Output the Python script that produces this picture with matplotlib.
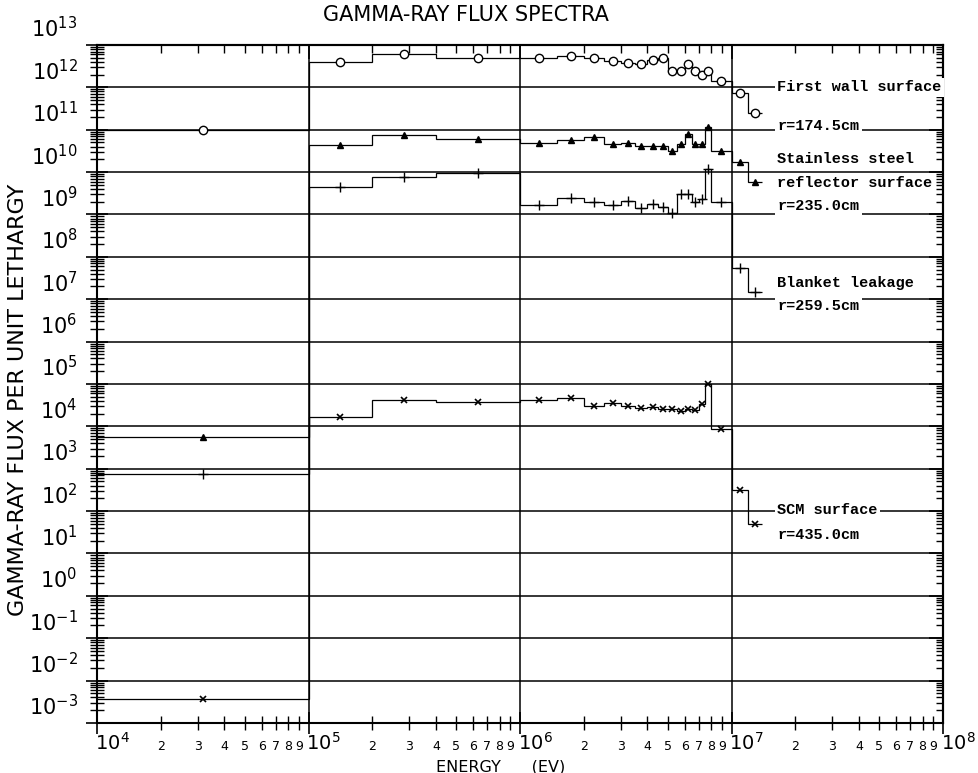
import numpy as np
import matplotlib
matplotlib.use('Agg')
import matplotlib.pyplot as plt
from matplotlib.ticker import LogLocator, FuncFormatter, NullFormatter
from matplotlib.transforms import ScaledTranslation, blended_transform_factory

# energy group boundaries (eV)
edges = [1e4, 1e5, 2e5, 4e5, 1e6, 1.5e6, 2e6, 2.5e6, 3e6, 3.5e6, 4e6, 4.5e6,
         5e6, 5.5e6, 6e6, 6.5e6, 7e6, 7.5e6, 8e6, 1e7, 1.2e7, 1.4e7]

# gamma-ray flux per unit lethargy, one value per group
first_wall = [9.8e10, 3.9e12, 6.2e12, 5.0e12, 5.0e12, 5.4e12, 4.8e12, 4.1e12,
              3.8e12, 3.5e12, 4.5e12, 4.9e12, 2.4e12, 2.4e12, 3.5e12, 2.5e12,
              2.0e12, 2.5e12, 1.4e12, 7.4e11, 2.5e11]
reflector = [5.6e3, 4.3e10, 7.6e10, 5.9e10, 4.9e10, 5.6e10, 6.8e10, 4.6e10,
             4.9e10, 4.2e10, 4.2e10, 4.2e10, 3.2e10, 4.7e10, 7.8e10, 4.7e10,
             4.7e10, 1.15e11, 3.2e10, 1.7e10, 5.8e9]
blanket = [7.4e2, 4.5e9, 7.6e9, 9.3e9, 1.7e9, 2.5e9, 2.0e9, 1.7e9,
           2.1e9, 1.4e9, 1.8e9, 1.5e9, 1.1e9, 3.1e9, 3.1e9, 2.0e9,
           2.3e9, 1.2e10, 2.0e9, 5.4e7, 1.5e7]
scm = [3.7e-3, 1.7e4, 4.3e4, 3.8e4, 4.3e4, 4.6e4, 3.1e4, 3.5e4,
       3.1e4, 2.75e4, 2.9e4, 2.6e4, 2.6e4, 2.3e4, 2.5e4, 2.4e4,
       3.3e4, 1.0e5, 8.5e3, 3.2e2, 4.9e1]

labels = [("First wall surface", 1e12), ("r=174.5cm", 10**11.1),
          ("Stainless steel", 10**10.3), ("reflector surface", 10**9.74),
          ("r=235.0cm", 10**9.19),
          ("Blanket leakage", 10**7.38), ("r=259.5cm", 10**6.83),
          ("SCM surface", 10**2.02), ("r=435.0cm", 10**1.43)]

plt.rcParams['font.family'] = ['DejaVu Sans']
plt.rcParams['mathtext.fontset'] = 'dejavusans'

fig = plt.figure(figsize=(9.79, 7.73), dpi=100)
ax = fig.add_axes([0.0991, 0.0647, 0.8642, 0.8771])

e = np.array(edges)
mid = np.sqrt(e[:-1] * e[1:])

ax.stairs(first_wall, edges, baseline=None, color='k', lw=0.9)
ax.plot(mid, first_wall, 'o', mfc='white', mec='k', ms=6, mew=1)
ax.stairs(reflector, edges, baseline=None, color='k', lw=0.9)
ax.plot(mid, reflector, '^', color='k', ms=5)
ax.stairs(blanket, edges, baseline=None, color='k', lw=0.9)
ax.plot(mid, blanket, '+', color='k', ms=7, mew=1)
ax.stairs(scm, edges, baseline=None, color='k', lw=0.9)
ax.plot(mid, scm, 'x', color='k', ms=5, mew=1.2)

ax.set_xscale('log')
ax.set_yscale('log')
ax.set_xlim(1e4, 1e8)
ax.set_ylim(1e-3, 1e13)

ax.xaxis.set_major_locator(LogLocator(base=10, numticks=20))
ax.xaxis.set_minor_locator(LogLocator(base=10, subs=np.arange(2, 10), numticks=200))
ax.yaxis.set_major_locator(LogLocator(base=10, numticks=30))
ax.yaxis.set_minor_locator(LogLocator(base=10, subs=np.arange(2, 10), numticks=300))

ax.xaxis.set_major_formatter(FuncFormatter(lambda v, p: r'$10^{%d}$' % round(np.log10(v))))
ax.xaxis.set_minor_formatter(FuncFormatter(
    lambda v, p: '%d' % round(v / 10 ** np.floor(np.log10(v) + 1e-9))))
ax.yaxis.set_major_formatter(FuncFormatter(lambda v, p: r'$10^{%d}$' % round(np.log10(v))))
ax.yaxis.set_minor_formatter(NullFormatter())

ax.grid(True, which='major', color='k', lw=1.1)
ax.tick_params(which='major', direction='inout', length=16, width=1.2)
ax.tick_params(which='minor', direction='inout', length=10, width=1.0)
ax.tick_params(axis='y', which='major', labelsize=15, pad=6)
ax.tick_params(axis='x', which='major', labelsize=14, pad=0)
ax.tick_params(axis='x', which='minor', labelsize=9, pad=7)
for s in ax.spines.values():
    s.set_linewidth(1.5)

# old plotter style: labels shifted off their ticks
for t in ax.get_yticklabels():
    t.set_transform(t.get_transform() + ScaledTranslation(0, 0.18, fig.dpi_scale_trans))
for t in ax.get_xticklabels():
    t.set_transform(t.get_transform() + ScaledTranslation(0.15, 0.02, fig.dpi_scale_trans))

sy = ax.secondary_yaxis('right')
sy.yaxis.set_major_locator(LogLocator(base=10, numticks=30))
sy.yaxis.set_minor_locator(LogLocator(base=10, subs=np.arange(2, 10), numticks=300))
sy.yaxis.set_major_formatter(NullFormatter())
sy.yaxis.set_minor_formatter(NullFormatter())
sy.tick_params(which='major', direction='in', length=10, width=1.2)
sy.tick_params(which='minor', direction='in', length=5, width=1.0)
sy.spines['right'].set_linewidth(1.5)

sx = ax.secondary_xaxis('top')
sx.xaxis.set_major_locator(LogLocator(base=10, numticks=20))
sx.xaxis.set_minor_locator(LogLocator(base=10, subs=np.arange(2, 10), numticks=200))
sx.xaxis.set_major_formatter(NullFormatter())
sx.xaxis.set_minor_formatter(NullFormatter())
sx.tick_params(which='major', direction='in', length=10, width=1.2)
sx.tick_params(which='minor', direction='in', length=6, width=1.0)
sx.spines['top'].set_linewidth(1.5)

tr = blended_transform_factory(ax.transAxes, ax.transData)
for txt, yv in labels:
    ax.text(0.804, yv, txt, transform=tr, ha='left', va='center',
            family='Liberation Mono', fontweight='bold', fontsize=11,
            bbox=dict(facecolor='white', edgecolor='none', pad=1.5))

fig.text(466 / 979, 1 - 15 / 773, 'GAMMA-RAY FLUX SPECTRA', ha='center', va='center',
         fontsize=15)
fig.text(18 / 979, 1 - 400 / 773, 'GAMMA-RAY FLUX PER UNIT LETHARGY', rotation=90,
         ha='center', va='center', fontsize=16)
fig.text(501 / 979, 1 - 767 / 773, 'ENERGY      (EV)', ha='center', va='center',
         fontsize=11.5)

fig.savefig('out.png', dpi=100)
